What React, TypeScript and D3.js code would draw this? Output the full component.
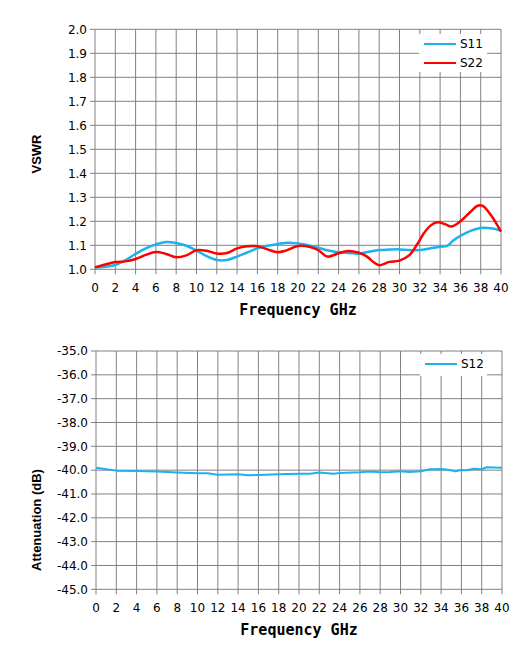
import * as d3 from 'd3'

// frequency points (GHz) and readings
const s11Freq = [0, 1, 2, 3, 4, 5, 6, 7, 8, 9, 10, 11, 12, 13, 14, 15, 16, 17, 18, 19, 20, 21, 22, 23, 24, 25, 26, 27, 28, 29, 30, 31, 32, 33, 34, 34.7, 35.3, 36, 37, 38, 39, 40]
const s11Vswr = [1.008, 1.011, 1.018, 1.038, 1.064, 1.087, 1.104, 1.114, 1.11, 1.098, 1.078, 1.055, 1.039, 1.039, 1.053, 1.07, 1.087, 1.098, 1.105, 1.111, 1.108, 1.1, 1.09, 1.078, 1.071, 1.068, 1.065, 1.073, 1.08, 1.082, 1.083, 1.08, 1.08, 1.087, 1.094, 1.098, 1.12, 1.139, 1.16, 1.172, 1.171, 1.161]

const s22Freq = [0, 1, 2, 3, 4, 5, 6, 7, 8, 9, 10, 11, 12, 13, 14, 15, 16, 17, 18, 18.8, 20, 21.1, 22, 22.9, 24, 24.9, 26, 26.8, 27.5, 28, 29, 30, 31, 31.7, 32.4, 33, 33.7, 34.5, 35.1, 36, 37, 37.7, 38.2, 39, 40]
const s22Vswr = [1.008, 1.02, 1.03, 1.033, 1.043, 1.06, 1.072, 1.064, 1.05, 1.058, 1.079, 1.077, 1.066, 1.068, 1.087, 1.096, 1.096, 1.083, 1.071, 1.078, 1.097, 1.094, 1.08, 1.053, 1.067, 1.076, 1.069, 1.053, 1.028, 1.017, 1.031, 1.036, 1.06, 1.101, 1.15, 1.18, 1.196, 1.188, 1.178, 1.2, 1.24, 1.265, 1.264, 1.226, 1.157]

const s12Freq = [0, 0.5, 2, 4, 6, 8, 10, 11, 12, 13, 14, 15, 16, 18, 20, 21.1, 22, 23.4, 24, 26, 27, 28, 29, 30, 30.9, 32, 32.9, 34, 34.7, 35.4, 36, 36.5, 37.2, 38, 38.5, 39.1, 40]
const s12Atten = [-39.9, -39.93, -40.02, -40.04, -40.06, -40.1, -40.13, -40.13, -40.19, -40.18, -40.17, -40.21, -40.2, -40.17, -40.15, -40.15, -40.1, -40.15, -40.12, -40.09, -40.06, -40.09, -40.08, -40.05, -40.08, -40.05, -39.96, -39.95, -39.98, -40.05, -39.99, -40.0, -39.94, -39.96, -39.88, -39.89, -39.9]

const xTicks = d3.range(0, 41, 2)
const vswrTicks = d3.range(10, 21).map(d => d / 10)
const attenTicks = d3.range(-45, -34, 1)

const BLUE = '#1cb2ec'
const RED = '#ff0000'
const GRID = '#808080'

const tickFont = '"DejaVu Sans", Verdana, sans-serif'
const titleFont = '"DejaVu Sans Mono", "Liberation Mono", monospace'

// plain hyphen for negatives, like the original
const fmt1 = (d: number) => d3.format('.1f')(d).replace('\u2212', '-')

interface Series {
    name: string
    color: string
    width: number
    freq: number[]
    values: number[]
    curve: d3.CurveFactory
}

interface PanelProps {
    left: number
    right: number
    top: number
    bottom: number
    domain: [number, number]
    yTicks: number[]
    yTitle: string
    yTitleY: number
    legend: { x: number; y: number; w: number; h: number }
    series: Series[]
}

const Panel = ({ left, right, top, bottom, domain, yTicks, yTitle, yTitleY, legend, series }: PanelProps) => {
    const x = d3.scaleLinear().domain([0, 40]).range([left, right])
    const y = d3.scaleLinear().domain(domain).range([bottom, top])

    return (
        <g>
            {yTicks.map(t => (
                <g key={'y' + t}>
                    <line x1={left - 5} x2={right} y1={y(t)} y2={y(t)} stroke={GRID} strokeWidth={1} />
                    <text x={left - 8} y={y(t)} dy="0.36em" textAnchor="end" fontFamily={tickFont} fontSize={12} fill="#000">
                        {fmt1(t)}
                    </text>
                </g>
            ))}
            {xTicks.map(t => (
                <g key={'x' + t}>
                    <line x1={x(t)} x2={x(t)} y1={top} y2={bottom + 5} stroke={GRID} strokeWidth={1} />
                    <text x={x(t)} y={bottom + 23} textAnchor="middle" fontFamily={tickFont} fontSize={12} fill="#000">
                        {t}
                    </text>
                </g>
            ))}

            <rect x={legend.x} y={legend.y} width={legend.w} height={legend.h} fill="#fff" />
            {series.map((s, i) => (
                <g key={'lg' + s.name}>
                    <line x1={legend.x + 5} x2={legend.x + 37} y1={legend.y + 10 + i * 19} y2={legend.y + 10 + i * 19} stroke={s.color} strokeWidth={2} />
                    <text x={legend.x + 41} y={legend.y + 10 + i * 19} dy="0.36em" fontFamily={tickFont} fontSize={12} fill="#000">
                        {s.name}
                    </text>
                </g>
            ))}

            {series.map(s => {
                const line = d3.line<number>()
                    .x((_, i) => x(s.freq[i]))
                    .y(d => y(d))
                    .curve(s.curve)
                return (
                    <path key={s.name} d={line(s.values) ?? ''} fill="none" stroke={s.color} strokeWidth={s.width} strokeLinejoin="round" />
                )
            })}

            <text
                transform={`translate(41,${yTitleY}) rotate(-90)`}
                textAnchor="middle"
                fontFamily='"Liberation Sans", Arial, sans-serif'
                fontWeight="bold"
                fontSize={13}
                fill="#000"
            >
                {yTitle}
            </text>
            <text
                x={(left + right) / 2}
                y={bottom + 46}
                textAnchor="middle"
                fontFamily={titleFont}
                fontWeight="bold"
                fontSize={15}
                fill="#000"
            >
                Frequency GHz
            </text>
        </g>
    )
}

const App = () => {
    return (
        <svg width={527} height={659} style={{ position: 'absolute', left: 0, top: 0, background: '#fff' }}>
            <rect width={527} height={659} fill="#fff" />
            <Panel
                left={95}
                right={501}
                top={29.3}
                bottom={269.3}
                domain={[1, 2]}
                yTicks={vswrTicks}
                yTitle="VSWR"
                yTitleY={154}
                legend={{ x: 419, y: 34, w: 68, h: 38 }}
                series={[
                    { name: 'S11', color: BLUE, width: 2.5, freq: s11Freq, values: s11Vswr, curve: d3.curveCatmullRom },
                    { name: 'S22', color: RED, width: 2.5, freq: s22Freq, values: s22Vswr, curve: d3.curveCatmullRom },
                ]}
            />
            <Panel
                left={96}
                right={502}
                top={351}
                bottom={589.3}
                domain={[-45, -35]}
                yTicks={attenTicks}
                yTitle="Attenuation (dB)"
                yTitleY={520}
                legend={{ x: 420, y: 354, w: 67, h: 22 }}
                series={[
                    { name: 'S12', color: BLUE, width: 2, freq: s12Freq, values: s12Atten, curve: d3.curveLinear },
                ]}
            />
        </svg>
    )
}

export default App
